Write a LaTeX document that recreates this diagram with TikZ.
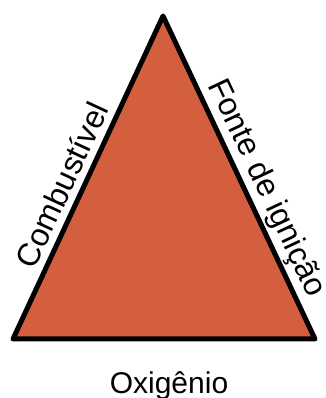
\documentclass[tikz,border=0pt]{standalone}
\usepackage{fontspec}
\setmainfont{Liberation Sans}
\usetikzlibrary{positioning, calc}

\definecolor{fogo}{HTML}{D35F3F}

\begin{document}
\begin{tikzpicture}[x=1pt, y=1pt,
    lado/.style={font=\fontsize{32}{36}\selectfont, inner sep=0pt, text depth=0pt},
    base/.style={font=\fontsize{30}{34}\selectfont},
    borda/.style={line width=5pt, line join=round}]

    \useasboundingbox (0,0) rectangle (325,398);

    % ================= Triangle =================
    \coordinate (esq) at (13,59);
    \coordinate (dir) at (315,59);
    \coordinate (topo) at (163,382);

    \fill[fogo] (esq) -- (topo) -- (dir) -- cycle;
    \draw[borda] (esq) -- (topo) -- (dir) -- cycle;

    % ================= Side labels =================
    \path (esq) -- (topo) node[lado, pos=0.45, sloped, above=9pt] (comb) {Combustível};
    \path (topo) -- (dir) node[lado, pos=0.56, sloped, above=11pt] (fonte) {Fonte de ignição};
    \node[base, anchor=base] (oxi) at (169,5) {Oxigênio};

\end{tikzpicture}
\end{document}
